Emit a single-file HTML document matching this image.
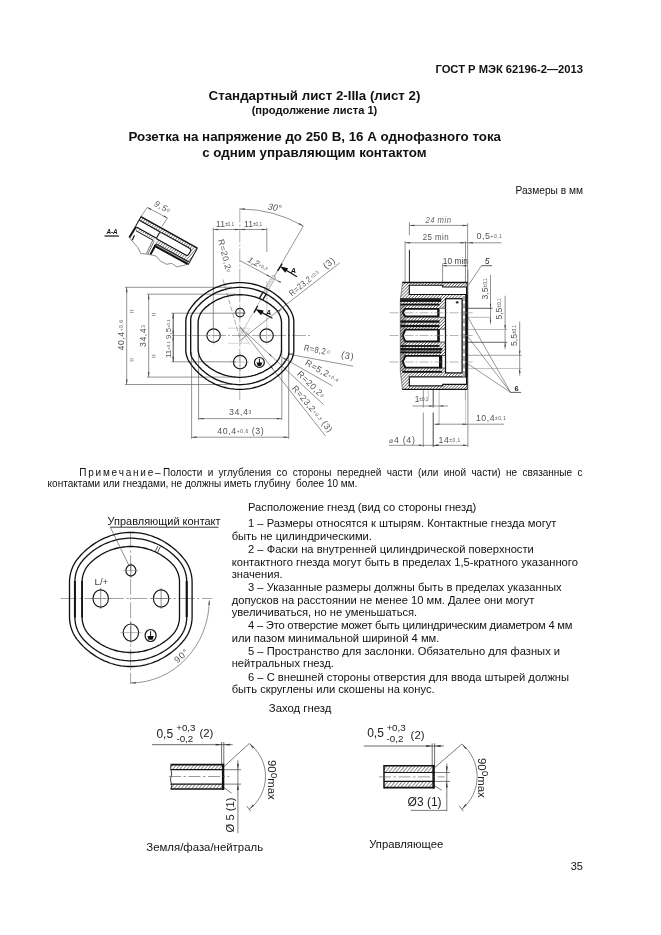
<!DOCTYPE html>
<html><head><meta charset="utf-8"><title>GOST</title>
<style>
html,body{margin:0;padding:0;background:#fff;}
body{width:661px;height:935px;position:relative;overflow:hidden;filter:grayscale(1);font-family:"Liberation Sans",sans-serif;color:#111;}
.t{position:absolute;white-space:pre;line-height:1;margin:0;}
.b{font-weight:bold;}
svg{position:absolute;left:0;top:0;}
svg text{font-family:"Liberation Sans",sans-serif;}
</style></head><body>
<div class="t b" style="right:78.0px;top:63.82px;font-size:11.2px;">ГОСТ Р МЭК 62196-2—2013</div>
<div class="t b" style="left:14.5px;width:600px;text-align:center;top:89.04px;font-size:13.3px;">Стандартный лист 2-IIIa (лист 2)</div>
<div class="t b" style="left:14.5px;width:600px;text-align:center;top:104.90px;font-size:11.1px;">(продолжение листа 1)</div>
<div class="t b" style="left:14.7px;width:600px;text-align:center;top:130.02px;font-size:13.33px;">Розетка на напряжение до 250 В, 16 А однофазного тока</div>
<div class="t b" style="left:14.4px;width:600px;text-align:center;top:146.02px;font-size:13.33px;">с одним управляющим контактом</div>
<div class="t " style="right:78.0px;top:185.67px;font-size:10.2px;">Размеры в мм</div>
<div class="t" style="left:79.2px;width:503.3px;top:467.84px;font-size:10px;white-space:normal;text-align:justify;text-align-last:justify;"><span style="letter-spacing:1.8px">Примечание</span><span style="margin-right:2.4px">–</span>Полости и углубления со стороны передней части (или иной части) не связанные с</div>
<div class="t " style="left:47.6px;top:478.84px;font-size:10px;">контактами или гнездами, не должны иметь глубину  более 10 мм.</div>
<div class="t " style="left:248.0px;top:501.84px;font-size:11.18px;">Расположение гнезд (вид со стороны гнезд)</div>
<div class="t " style="left:248.0px;top:517.84px;font-size:11.18px;">1 – Размеры относятся к штырям. Контактные гнезда могут</div>
<div class="t " style="left:231.7px;top:530.84px;font-size:11.18px;">быть не цилиндрическими.</div>
<div class="t " style="left:248.0px;top:543.84px;font-size:11.18px;">2 – Фаски на внутренней цилиндрической поверхности</div>
<div class="t " style="left:231.7px;top:556.84px;font-size:11.18px;">контактного гнезда могут быть в пределах 1,5-кратного указанного</div>
<div class="t " style="left:231.7px;top:568.84px;font-size:11.18px;">значения.</div>
<div class="t " style="left:248.0px;top:581.84px;font-size:11.18px;">3 – Указанные размеры должны быть в пределах указанных</div>
<div class="t " style="left:231.7px;top:594.84px;font-size:11.18px;">допусков на расстоянии не менее 10 мм. Далее они могут</div>
<div class="t " style="left:231.7px;top:606.84px;font-size:11.18px;">увеличиваться, но не уменьшаться.</div>
<div class="t " style="left:248.0px;top:619.84px;font-size:11.18px;letter-spacing:-0.2px;">4 – Это отверстие может быть цилиндрическим диаметром 4 мм</div>
<div class="t " style="left:231.7px;top:632.84px;font-size:11.18px;">или пазом минимальной шириной 4 мм.</div>
<div class="t " style="left:248.0px;top:645.84px;font-size:11.18px;">5 – Пространство для заслонки. Обязательно для фазных и</div>
<div class="t " style="left:231.7px;top:657.84px;font-size:11.18px;">нейтральных гнезд.</div>
<div class="t " style="left:248.0px;top:671.84px;font-size:11.18px;">6 – С внешней стороны отверстия для ввода штырей должны</div>
<div class="t " style="left:231.7px;top:683.84px;font-size:11.18px;">быть скруглены или скошены на конус.</div>
<div class="t " style="left:268.8px;top:702.71px;font-size:11.33px;">Заход гнезд</div>
<div class="t " style="left:107.6px;top:516.02px;font-size:10.96px;">Управляющий контакт</div>
<div class="t " style="left:146.3px;top:841.65px;font-size:11.4px;">Земля/фаза/нейтраль</div>
<div class="t " style="left:369.2px;top:838.73px;font-size:11.3px;">Управляющее</div>
<div class="t " style="right:78.0px;top:860.99px;font-size:11px;">35</div>
<svg width="661" height="935" viewBox="0 0 661 935">
<defs>
<pattern id="h" width="2.2" height="2.2" patternUnits="userSpaceOnUse" patternTransform="rotate(-45)"><rect width="2.2" height="2.2" fill="#fff"/><line x1="0" y1="0" x2="2.2" y2="0" stroke="#1a1a1a" stroke-width="1.05"/></pattern>
<pattern id="h2" width="2.4" height="2.4" patternUnits="userSpaceOnUse" patternTransform="rotate(-78)"><rect width="2.4" height="2.4" fill="#fff"/><line x1="0" y1="0" x2="2.4" y2="0" stroke="#222" stroke-width="0.95"/></pattern>
<pattern id="h3" width="2.7" height="2.7" patternUnits="userSpaceOnUse" patternTransform="rotate(-50)"><rect width="2.7" height="2.7" fill="#fff"/><line x1="0" y1="0" x2="2.7" y2="0" stroke="#222" stroke-width="1.0"/></pattern>
</defs>
<line x1="239.8" y1="208.5" x2="239.8" y2="400.0" stroke="#777" stroke-width="0.6" stroke-dasharray="14 2 2 2"/>
<line x1="172.0" y1="335.5" x2="310.0" y2="335.5" stroke="#777" stroke-width="0.6" stroke-dasharray="14 2 2 2"/>
<line x1="125.0" y1="287.3" x2="232.0" y2="287.3" stroke="#666" stroke-width="0.7" />
<line x1="125.0" y1="384.5" x2="232.0" y2="384.5" stroke="#666" stroke-width="0.7" />
<line x1="147.0" y1="294.2" x2="236.0" y2="294.2" stroke="#666" stroke-width="0.7" />
<line x1="147.0" y1="377.1" x2="236.0" y2="377.1" stroke="#666" stroke-width="0.7" />
<line x1="171.5" y1="313.2" x2="245.0" y2="313.2" stroke="#666" stroke-width="0.7" />
<line x1="171.5" y1="361.8" x2="236.0" y2="361.8" stroke="#666" stroke-width="0.7" />
<line x1="126.7" y1="287.3" x2="126.7" y2="384.5" stroke="#666" stroke-width="0.7" />
<polygon points="126.7,287.3 127.5,292.3 126.0,292.3" fill="#444"/>
<polygon points="126.7,384.5 126.0,379.5 127.5,379.5" fill="#444"/>
<line x1="148.7" y1="294.2" x2="148.7" y2="377.1" stroke="#666" stroke-width="0.7" />
<polygon points="148.7,294.2 149.4,299.2 147.9,299.2" fill="#444"/>
<polygon points="148.7,377.1 147.9,372.1 149.4,372.1" fill="#444"/>
<line x1="173.2" y1="313.2" x2="173.2" y2="361.8" stroke="#444" stroke-width="1.0" />
<polygon points="173.2,313.2 173.9,318.2 172.4,318.2" fill="#444"/>
<polygon points="173.2,361.8 172.4,356.8 173.9,356.8" fill="#444"/>
<polygon points="173.2,335.5 172.4,330.5 173.9,330.5" fill="#444"/>
<polygon points="173.2,335.5 173.9,340.5 172.4,340.5" fill="#444"/>
<text transform="translate(124.0 350.5) rotate(-90)" font-size="8.6" fill="#555" text-anchor="start" letter-spacing="0.6">40,4<tspan font-size="55%" dy="-1">+0,6</tspan></text>
<text transform="translate(145.8 347.0) rotate(-90)" font-size="8.6" fill="#555" text-anchor="start" letter-spacing="0.6">34,4<tspan font-size="55%" dy="-1">3</tspan></text>
<text transform="translate(171.0 358.0) rotate(-90)" font-size="8" fill="#555" text-anchor="start" >11<tspan font-size="55%" dy="-1">±0,1</tspan><tspan dy="1"> 9,5</tspan><tspan font-size="55%" dy="-1">±0,1</tspan></text>
<line x1="130.0" y1="310.4" x2="133.6" y2="310.4" stroke="#555" stroke-width="0.6" />
<line x1="130.0" y1="312.4" x2="133.6" y2="312.4" stroke="#555" stroke-width="0.6" />
<line x1="130.0" y1="358.9" x2="133.6" y2="358.9" stroke="#555" stroke-width="0.6" />
<line x1="130.0" y1="360.9" x2="133.6" y2="360.9" stroke="#555" stroke-width="0.6" />
<line x1="151.9" y1="313.5" x2="155.5" y2="313.5" stroke="#555" stroke-width="0.6" />
<line x1="151.9" y1="315.5" x2="155.5" y2="315.5" stroke="#555" stroke-width="0.6" />
<line x1="151.9" y1="355.2" x2="155.5" y2="355.2" stroke="#555" stroke-width="0.6" />
<line x1="151.9" y1="357.2" x2="155.5" y2="357.2" stroke="#555" stroke-width="0.6" />
<line x1="213.3" y1="227.5" x2="213.3" y2="330.0" stroke="#666" stroke-width="0.7" />
<line x1="266.8" y1="227.5" x2="266.8" y2="252.0" stroke="#666" stroke-width="0.7" />
<line x1="266.8" y1="281.0" x2="266.8" y2="330.0" stroke="#999" stroke-width="0.5" />
<line x1="213.3" y1="229.5" x2="266.8" y2="229.5" stroke="#666" stroke-width="0.7" />
<polygon points="213.3,229.5 218.3,228.8 218.3,230.2" fill="#444"/>
<polygon points="266.8,229.5 261.8,230.2 261.8,228.8" fill="#444"/>
<polygon points="239.8,229.5 234.8,230.2 234.8,228.8" fill="#444"/>
<polygon points="239.8,229.5 244.8,228.8 244.8,230.2" fill="#444"/>
<text transform="translate(216.0 226.6)" font-size="8.6" fill="#555" text-anchor="start" >11<tspan font-size="55%" dy="-1">±0,1</tspan></text>
<text transform="translate(244.0 226.6)" font-size="8.6" fill="#555" text-anchor="start" >11<tspan font-size="55%" dy="-1">±0,1</tspan></text>
<path d="M239.8,209.0 A127,127 0 0 1 303.3,226.0" fill="none" stroke="#666" stroke-width="0.7"/>
<polygon points="239.8,209.0 244.8,208.2 244.8,209.8" fill="#444"/>
<polygon points="303.3,226.0 298.6,224.2 299.3,222.9" fill="#444"/>
<line x1="303.3" y1="226.0" x2="274.3" y2="276.2" stroke="#666" stroke-width="0.7" />
<line x1="261.3" y1="298.8" x2="239.8" y2="336.0" stroke="#888" stroke-width="0.5" />
<text transform="translate(267.5 209.6) rotate(8)" font-size="9" fill="#555" text-anchor="start" font-style="italic">30°</text>
<line x1="239.8" y1="338.0" x2="222.9" y2="279.2" stroke="#777" stroke-width="0.6" stroke-dasharray="5 2"/>
<text transform="translate(218.0 240.0) rotate(76)" font-size="8.6" fill="#555" text-anchor="start" letter-spacing="0.5">R=20,2<tspan font-size="55%" dy="-1">0</tspan></text>
<line x1="240.2" y1="260.7" x2="279.4" y2="281.8" stroke="#666" stroke-width="0.7" />
<polygon points="270.5,277.0 266.6,275.8 267.3,274.5" fill="#444"/>
<polygon points="277.2,280.6 281.1,281.8 280.4,283.1" fill="#444"/>
<text transform="translate(247.0 261.5) rotate(28)" font-size="8.6" fill="#555" text-anchor="start" font-style="italic">1,2<tspan font-size="55%" dy="-1">+0,3</tspan></text>
<line x1="259.5" y1="298.2" x2="263.1" y2="292.0" stroke="#111" stroke-width="1.3" />
<line x1="263.1" y1="292.0" x2="272.7" y2="275.3" stroke="#888" stroke-width="0.5" />
<line x1="262.7" y1="300.0" x2="266.3" y2="293.8" stroke="#111" stroke-width="1.3" />
<line x1="266.3" y1="293.8" x2="275.9" y2="277.1" stroke="#888" stroke-width="0.5" />
<line x1="263.2" y1="291.8" x2="267.4" y2="291.9" stroke="#888" stroke-width="0.45" />
<line x1="264.2" y1="290.1" x2="268.4" y2="290.1" stroke="#888" stroke-width="0.45" />
<line x1="265.2" y1="288.3" x2="269.4" y2="288.4" stroke="#888" stroke-width="0.45" />
<line x1="266.2" y1="286.6" x2="270.4" y2="286.7" stroke="#888" stroke-width="0.45" />
<line x1="267.2" y1="284.9" x2="271.4" y2="284.9" stroke="#888" stroke-width="0.45" />
<line x1="268.2" y1="283.1" x2="272.4" y2="283.2" stroke="#888" stroke-width="0.45" />
<line x1="269.2" y1="281.4" x2="273.4" y2="281.5" stroke="#888" stroke-width="0.45" />
<line x1="270.2" y1="279.7" x2="274.4" y2="279.7" stroke="#888" stroke-width="0.45" />
<line x1="271.2" y1="277.9" x2="275.4" y2="278.0" stroke="#888" stroke-width="0.45" />
<line x1="272.7" y1="275.3" x2="275.9" y2="277.1" stroke="#555" stroke-width="0.6" />
<line x1="297.0" y1="276.7" x2="283.3" y2="268.4" stroke="#111" stroke-width="1.2" /><polygon points="279.9,266.3 288.1,268.2 285.3,272.8" fill="#111"/>
<line x1="277.7" y1="270.9" x2="282.2" y2="263.6" stroke="#111" stroke-width="1.3" />
<text transform="translate(290.8 272.9)" font-size="7.2" fill="#111" text-anchor="start" font-weight="bold" font-style="italic">A</text>
<line x1="272.5" y1="318.3" x2="258.9" y2="310.9" stroke="#111" stroke-width="1.2" /><polygon points="255.4,309.0 263.7,310.4 261.1,315.2" fill="#111"/>
<line x1="254.1" y1="312.6" x2="257.7" y2="305.8" stroke="#111" stroke-width="1.3" />
<text transform="translate(265.9 314.6)" font-size="7.2" fill="#111" text-anchor="start" font-weight="bold" font-style="italic">A</text>
<line x1="339.8" y1="262.8" x2="239.6" y2="340.8" stroke="#666" stroke-width="0.7" />
<polygon points="282.2,308.5 279.1,311.9 278.2,310.7" fill="#444"/>
<text transform="translate(292.0 296.4) rotate(-38.5) scale(0.82,1)" font-size="8.8" fill="#555" text-anchor="start" letter-spacing="0.5">R=23,2</text><text transform="translate(312.7 279.9) rotate(-38.5)" font-size="4.8" fill="#666" text-anchor="start" dy="-1.5">+0,3</text><text transform="translate(326.0 269.3) rotate(-38.5)" font-size="9.2" fill="#555" text-anchor="start" letter-spacing="0.6">(3)</text>
<line x1="228.0" y1="328.2" x2="248.5" y2="328.2" stroke="#aaa" stroke-width="0.5" />
<line x1="228.0" y1="343.3" x2="248.5" y2="343.3" stroke="#aaa" stroke-width="0.5" />
<line x1="239.3" y1="328.0" x2="250.0" y2="345.0" stroke="#aaa" stroke-width="0.5" />
<line x1="250.0" y1="328.0" x2="239.3" y2="345.0" stroke="#aaa" stroke-width="0.5" />
<line x1="293.1" y1="355.0" x2="353.1" y2="366.2" stroke="#666" stroke-width="0.7" />
<text transform="translate(303.5 350.5) rotate(10.6) scale(0.86,1)" font-size="8.8" fill="#555" text-anchor="start" letter-spacing="0.5">R=8,2</text><text transform="translate(326.7 354.8) rotate(10.6)" font-size="4.8" fill="#666" text-anchor="start" dy="-1.5">0</text><text transform="translate(340.7 357.5) rotate(10.6)" font-size="9.2" fill="#555" text-anchor="start" letter-spacing="0.6">(3)</text>
<line x1="282.3" y1="357.4" x2="332.4" y2="385.9" stroke="#666" stroke-width="0.7" />
<polygon points="282.3,357.4 286.1,358.7 285.4,360.0" fill="#444"/>
<text transform="translate(304.5 364.5) rotate(29.6)" font-size="8.8" fill="#555" text-anchor="start" letter-spacing="0.5">R=5,2<tspan font-size="55%" dy="-1">+0,4</tspan></text>
<line x1="240.0" y1="327.0" x2="323.6" y2="404.6" stroke="#666" stroke-width="0.7" />
<polygon points="272.3,357.0 268.9,354.8 269.9,353.7" fill="#444"/>
<text transform="translate(296.5 374.5) rotate(44)" font-size="8.8" fill="#555" text-anchor="start" letter-spacing="0.5">R=20,2<tspan font-size="55%" dy="-1">0</tspan></text>
<line x1="239.5" y1="326.5" x2="325.5" y2="436.0" stroke="#666" stroke-width="0.7" />
<polygon points="273.5,369.8 270.4,367.1 271.6,366.2" fill="#444"/>
<text transform="translate(291.5 388.5) rotate(50)" font-size="8.8" fill="#555" text-anchor="start" letter-spacing="0.5">R=23,2<tspan font-size="55%" dy="-1">+0,3</tspan><tspan dy="1"> (3)</tspan></text>
<line x1="198.6" y1="350.0" x2="198.6" y2="420.2" stroke="#666" stroke-width="0.7" />
<line x1="281.8" y1="350.0" x2="281.8" y2="420.2" stroke="#666" stroke-width="0.7" />
<line x1="191.6" y1="352.0" x2="191.6" y2="438.9" stroke="#666" stroke-width="0.7" />
<line x1="288.7" y1="352.0" x2="288.7" y2="438.9" stroke="#666" stroke-width="0.7" />
<line x1="198.6" y1="418.6" x2="281.8" y2="418.6" stroke="#666" stroke-width="0.7" />
<polygon points="198.6,418.6 203.6,417.9 203.6,419.4" fill="#444"/>
<polygon points="281.8,418.6 276.8,419.4 276.8,417.9" fill="#444"/>
<line x1="191.6" y1="437.2" x2="288.7" y2="437.2" stroke="#666" stroke-width="0.7" />
<polygon points="191.6,437.2 196.6,436.4 196.6,437.9" fill="#444"/>
<polygon points="288.7,437.2 283.7,437.9 283.7,436.4" fill="#444"/>
<text transform="translate(229.0 415.3)" font-size="8.8" fill="#555" text-anchor="start" letter-spacing="0.6">34,4<tspan font-size="55%" dy="-1">3</tspan></text>
<text transform="translate(217.2 433.6)" font-size="8.8" fill="#555" text-anchor="start" letter-spacing="0.6">40,4<tspan font-size="55%" dy="-1">+0,6</tspan><tspan dy="1">  (3)</tspan></text>
<polygon points="185.8,336.0 185.8,322.1 185.8,321.6 185.8,321.1 185.9,320.5 185.9,320.0 186.0,319.5 186.0,319.0 186.1,318.5 186.2,318.0 186.3,317.4 186.4,316.9 186.5,316.4 186.7,315.9 186.8,315.4 187.0,314.9 187.2,314.4 187.4,314.0 187.6,313.5 187.8,313.0 188.0,312.5 188.2,312.1 188.5,311.6 188.7,311.1 189.0,310.7 189.3,310.2 190.7,308.2 192.1,306.1 193.7,304.2 195.3,302.3 197.1,300.5 198.9,298.7 200.7,297.1 202.7,295.5 204.7,294.0 206.7,292.5 208.8,291.2 211.0,290.0 213.2,288.8 215.5,287.7 217.8,286.8 220.1,285.9 222.5,285.1 224.9,284.5 227.4,283.9 229.8,283.4 232.3,283.1 234.8,282.8 237.3,282.7 239.8,282.6 242.3,282.7 244.8,282.8 247.3,283.1 249.8,283.4 252.2,283.9 254.7,284.5 257.1,285.1 259.5,285.9 261.8,286.8 264.1,287.7 266.4,288.8 268.6,290.0 270.8,291.2 272.9,292.5 274.9,294.0 276.9,295.5 278.9,297.1 280.7,298.7 282.5,300.5 284.3,302.3 285.9,304.2 287.5,306.1 288.9,308.2 290.3,310.2 290.6,310.7 290.9,311.1 291.1,311.6 291.4,312.1 291.6,312.5 291.8,313.0 292.0,313.5 292.2,314.0 292.4,314.4 292.6,314.9 292.8,315.4 292.9,315.9 293.1,316.4 293.2,316.9 293.3,317.4 293.4,318.0 293.5,318.5 293.6,319.0 293.6,319.5 293.7,320.0 293.7,320.5 293.8,321.1 293.8,321.6 293.8,322.1 293.8,336.0 293.8,349.9 293.8,350.4 293.8,350.9 293.7,351.5 293.7,352.0 293.6,352.5 293.6,353.0 293.5,353.5 293.4,354.0 293.3,354.6 293.2,355.1 293.1,355.6 292.9,356.1 292.8,356.6 292.6,357.1 292.4,357.6 292.2,358.0 292.0,358.5 291.8,359.0 291.6,359.5 291.4,359.9 291.1,360.4 290.9,360.9 290.6,361.3 290.3,361.8 288.9,363.8 287.5,365.9 285.9,367.8 284.3,369.7 282.5,371.5 280.7,373.3 278.9,374.9 276.9,376.5 274.9,378.0 272.9,379.5 270.8,380.8 268.6,382.0 266.4,383.2 264.1,384.3 261.8,385.2 259.5,386.1 257.1,386.9 254.7,387.5 252.2,388.1 249.8,388.6 247.3,388.9 244.8,389.2 242.3,389.3 239.8,389.4 237.3,389.3 234.8,389.2 232.3,388.9 229.8,388.6 227.4,388.1 224.9,387.5 222.5,386.9 220.1,386.1 217.8,385.2 215.5,384.3 213.2,383.2 211.0,382.0 208.8,380.8 206.7,379.5 204.7,378.0 202.7,376.5 200.7,374.9 198.9,373.3 197.1,371.5 195.3,369.7 193.7,367.8 192.1,365.9 190.7,363.8 189.3,361.8 189.0,361.3 188.7,360.9 188.5,360.4 188.2,359.9 188.0,359.5 187.8,359.0 187.6,358.5 187.4,358.0 187.2,357.6 187.0,357.1 186.8,356.6 186.7,356.1 186.5,355.6 186.4,355.1 186.3,354.6 186.2,354.0 186.1,353.5 186.0,353.0 186.0,352.5 185.9,352.0 185.9,351.5 185.8,350.9 185.8,350.4 185.8,349.9" fill="none" stroke="#111" stroke-width="1.35" stroke-linejoin="round"/>
<polygon points="190.7,336.0 190.7,319.7 190.7,319.5 190.7,319.2 190.7,318.9 190.8,318.6 190.8,318.3 190.8,318.0 190.9,317.8 190.9,317.5 191.0,317.2 191.0,316.9 191.1,316.7 191.2,316.4 191.3,316.1 191.4,315.8 191.4,315.6 191.5,315.3 191.7,315.0 191.8,314.8 191.9,314.5 192.0,314.3 192.1,314.0 192.3,313.8 192.4,313.5 192.6,313.3 193.9,311.3 195.3,309.5 196.7,307.6 198.3,305.9 199.9,304.2 201.5,302.5 203.3,301.0 205.1,299.5 206.9,298.1 208.9,296.7 210.8,295.5 212.9,294.3 214.9,293.2 217.1,292.2 219.2,291.3 221.4,290.5 223.6,289.8 225.9,289.2 228.2,288.6 230.5,288.2 232.8,287.8 235.1,287.6 237.5,287.4 239.8,287.4 242.1,287.4 244.5,287.6 246.8,287.8 249.1,288.2 251.4,288.6 253.7,289.2 256.0,289.8 258.2,290.5 260.4,291.3 262.5,292.2 264.7,293.2 266.7,294.3 268.8,295.5 270.7,296.7 272.7,298.1 274.5,299.5 276.3,301.0 278.1,302.5 279.7,304.2 281.3,305.9 282.9,307.6 284.3,309.5 285.7,311.3 287.0,313.3 287.2,313.5 287.3,313.8 287.5,314.0 287.6,314.3 287.7,314.5 287.8,314.8 287.9,315.0 288.1,315.3 288.2,315.6 288.2,315.8 288.3,316.1 288.4,316.4 288.5,316.7 288.6,316.9 288.6,317.2 288.7,317.5 288.7,317.8 288.8,318.0 288.8,318.3 288.8,318.6 288.9,318.9 288.9,319.2 288.9,319.5 288.9,319.7 288.9,336.0 288.9,352.3 288.9,352.5 288.9,352.8 288.9,353.1 288.8,353.4 288.8,353.7 288.8,354.0 288.7,354.2 288.7,354.5 288.6,354.8 288.6,355.1 288.5,355.3 288.4,355.6 288.3,355.9 288.2,356.2 288.2,356.4 288.1,356.7 287.9,357.0 287.8,357.2 287.7,357.5 287.6,357.7 287.5,358.0 287.3,358.2 287.2,358.5 287.0,358.7 285.7,360.7 284.3,362.5 282.9,364.4 281.3,366.1 279.7,367.8 278.1,369.5 276.3,371.0 274.5,372.5 272.7,373.9 270.7,375.3 268.8,376.5 266.7,377.7 264.7,378.8 262.5,379.8 260.4,380.7 258.2,381.5 256.0,382.2 253.7,382.8 251.4,383.4 249.1,383.8 246.8,384.2 244.5,384.4 242.1,384.6 239.8,384.6 237.5,384.6 235.1,384.4 232.8,384.2 230.5,383.8 228.2,383.4 225.9,382.8 223.6,382.2 221.4,381.5 219.2,380.7 217.1,379.8 214.9,378.8 212.9,377.7 210.8,376.5 208.9,375.3 206.9,373.9 205.1,372.5 203.3,371.0 201.5,369.5 199.9,367.8 198.3,366.1 196.7,364.4 195.3,362.5 193.9,360.7 192.6,358.7 192.4,358.5 192.3,358.2 192.1,358.0 192.0,357.7 191.9,357.5 191.8,357.2 191.7,357.0 191.5,356.7 191.4,356.4 191.4,356.2 191.3,355.9 191.2,355.6 191.1,355.3 191.0,355.1 191.0,354.8 190.9,354.5 190.9,354.2 190.8,354.0 190.8,353.7 190.8,353.4 190.7,353.1 190.7,352.8 190.7,352.5 190.7,352.3" fill="none" stroke="#111" stroke-width="1.35" stroke-linejoin="round"/>
<polygon points="198.1,336.0 198.1,323.2 198.1,322.5 198.1,321.8 198.2,321.1 198.3,320.4 198.4,319.8 198.5,319.1 198.7,318.4 198.9,317.7 199.1,317.1 199.3,316.4 199.5,315.8 199.8,315.2 200.1,314.5 200.4,313.9 200.7,313.3 201.1,312.7 201.4,312.1 201.8,311.6 202.2,311.0 202.6,310.5 203.1,310.0 203.6,309.4 204.0,309.0 204.5,308.5 205.7,307.4 207.0,306.4 208.2,305.4 209.5,304.4 210.9,303.5 212.2,302.6 213.6,301.8 215.0,301.0 216.4,300.2 217.9,299.5 219.4,298.9 220.9,298.3 222.4,297.7 223.9,297.2 225.5,296.7 227.0,296.3 228.6,295.9 230.2,295.6 231.8,295.3 233.4,295.1 235.0,294.9 236.6,294.8 238.2,294.7 239.8,294.7 241.4,294.7 243.0,294.8 244.6,294.9 246.2,295.1 247.8,295.3 249.4,295.6 251.0,295.9 252.6,296.3 254.1,296.7 255.7,297.2 257.2,297.7 258.7,298.3 260.2,298.9 261.7,299.5 263.2,300.2 264.6,301.0 266.0,301.8 267.4,302.6 268.7,303.5 270.1,304.4 271.4,305.4 272.6,306.4 273.9,307.4 275.1,308.5 275.6,309.0 276.0,309.4 276.5,310.0 277.0,310.5 277.4,311.0 277.8,311.6 278.2,312.1 278.5,312.7 278.9,313.3 279.2,313.9 279.5,314.5 279.8,315.2 280.1,315.8 280.3,316.4 280.5,317.1 280.7,317.7 280.9,318.4 281.1,319.1 281.2,319.8 281.3,320.4 281.4,321.1 281.5,321.8 281.5,322.5 281.5,323.2 281.5,336.0 281.5,348.8 281.5,349.5 281.5,350.2 281.4,350.9 281.3,351.6 281.2,352.2 281.1,352.9 280.9,353.6 280.7,354.3 280.5,354.9 280.3,355.6 280.1,356.2 279.8,356.8 279.5,357.5 279.2,358.1 278.9,358.7 278.5,359.3 278.2,359.9 277.8,360.4 277.4,361.0 277.0,361.5 276.5,362.0 276.0,362.6 275.6,363.0 275.1,363.5 273.9,364.6 272.6,365.6 271.4,366.6 270.1,367.6 268.7,368.5 267.4,369.4 266.0,370.2 264.6,371.0 263.2,371.8 261.7,372.5 260.2,373.1 258.7,373.7 257.2,374.3 255.7,374.8 254.1,375.3 252.6,375.7 251.0,376.1 249.4,376.4 247.8,376.7 246.2,376.9 244.6,377.1 243.0,377.2 241.4,377.3 239.8,377.3 238.2,377.3 236.6,377.2 235.0,377.1 233.4,376.9 231.8,376.7 230.2,376.4 228.6,376.1 227.0,375.7 225.5,375.3 223.9,374.8 222.4,374.3 220.9,373.7 219.4,373.1 217.9,372.5 216.4,371.8 215.0,371.0 213.6,370.2 212.2,369.4 210.9,368.5 209.5,367.6 208.2,366.6 207.0,365.6 205.7,364.6 204.5,363.5 204.0,363.0 203.6,362.6 203.1,362.0 202.6,361.5 202.2,361.0 201.8,360.4 201.4,359.9 201.1,359.3 200.7,358.7 200.4,358.1 200.1,357.5 199.8,356.8 199.5,356.2 199.3,355.6 199.1,354.9 198.9,354.3 198.7,353.6 198.5,352.9 198.4,352.2 198.3,351.6 198.2,350.9 198.1,350.2 198.1,349.5 198.1,348.8" fill="none" stroke="#111" stroke-width="1.35" stroke-linejoin="round"/>
<line x1="288.9" y1="354.3" x2="293.7" y2="354.0" stroke="#222" stroke-width="0.9" />
<circle cx="240.0" cy="312.6" r="4.3" fill="none" stroke="#111" stroke-width="1.15"/>
<circle cx="213.6" cy="335.6" r="6.7" fill="none" stroke="#111" stroke-width="1.15"/>
<circle cx="266.6" cy="335.6" r="6.7" fill="none" stroke="#111" stroke-width="1.15"/>
<circle cx="240.1" cy="362.1" r="6.7" fill="none" stroke="#111" stroke-width="1.15"/>
<line x1="234.0" y1="312.6" x2="246.0" y2="312.6" stroke="#888" stroke-width="0.5" />
<line x1="240.0" y1="306.6" x2="240.0" y2="318.6" stroke="#888" stroke-width="0.5" />
<line x1="204.6" y1="335.6" x2="222.6" y2="335.6" stroke="#888" stroke-width="0.5" />
<line x1="213.6" y1="326.6" x2="213.6" y2="344.6" stroke="#888" stroke-width="0.5" />
<line x1="257.6" y1="335.6" x2="275.6" y2="335.6" stroke="#888" stroke-width="0.5" />
<line x1="266.6" y1="326.6" x2="266.6" y2="344.6" stroke="#888" stroke-width="0.5" />
<line x1="231.1" y1="362.1" x2="249.1" y2="362.1" stroke="#888" stroke-width="0.5" />
<line x1="240.1" y1="353.1" x2="240.1" y2="371.1" stroke="#888" stroke-width="0.5" />
<circle cx="259.4" cy="362.4" r="4.9" fill="#fff" stroke="#111" stroke-width="1.2"/><path d="M259.4,358.7 V363.2" stroke="#111" stroke-width="1.0" fill="none"/><polygon points="256.4,362.59999999999997 262.4,362.59999999999997 261.0,366.0 257.79999999999995,366.0" fill="#111"/><line x1="409.4" y1="222.2" x2="409.4" y2="235.0" stroke="#666" stroke-width="0.7" />
<line x1="409.4" y1="249.8" x2="409.4" y2="283.0" stroke="#222" stroke-width="1.0" />
<line x1="467.6" y1="223.3" x2="467.6" y2="284.7" stroke="#666" stroke-width="0.7" />
<line x1="409.4" y1="225.4" x2="467.6" y2="225.4" stroke="#666" stroke-width="0.7" />
<polygon points="409.4,225.4 414.4,224.7 414.4,226.2" fill="#444"/>
<polygon points="467.6,225.4 462.6,226.2 462.6,224.7" fill="#444"/>
<text transform="translate(425.5 223.4) scale(0.92,1)" font-size="8.4" fill="#666" text-anchor="start" font-style="italic" letter-spacing="0.5">24 min</text>
<line x1="405.1" y1="241.3" x2="405.1" y2="283.7" stroke="#666" stroke-width="0.7" />
<line x1="465.5" y1="241.3" x2="465.5" y2="284.7" stroke="#666" stroke-width="0.7" />
<line x1="405.1" y1="242.8" x2="501.5" y2="242.8" stroke="#666" stroke-width="0.7" />
<polygon points="405.1,242.8 410.1,242.1 410.1,243.6" fill="#444"/>
<polygon points="465.5,242.8 460.5,243.6 460.5,242.1" fill="#444"/>
<polygon points="467.8,242.8 472.8,242.1 472.8,243.6" fill="#444"/>
<text transform="translate(422.7 240.2) scale(0.86,1)" font-size="9.2" fill="#555" text-anchor="start" letter-spacing="0.5">25 min</text>
<text transform="translate(476.5 239.4)" font-size="9" fill="#555" text-anchor="start" letter-spacing="0.5">0,5<tspan font-size="55%" dy="-1">+0,1</tspan></text>
<line x1="442.6" y1="263.5" x2="442.6" y2="283.7" stroke="#666" stroke-width="0.7" />
<line x1="442.6" y1="265.7" x2="467.6" y2="265.7" stroke="#666" stroke-width="0.7" />
<polygon points="442.6,265.7 446.6,264.9 446.6,266.4" fill="#444"/>
<polygon points="467.6,265.7 463.6,266.4 463.6,264.9" fill="#444"/>
<text transform="translate(442.8 263.6)" font-size="8.4" fill="#444" text-anchor="start" >10 min</text>
<line x1="468.0" y1="285.8" x2="481.4" y2="265.7" stroke="#666" stroke-width="0.7" />
<line x1="481.4" y1="265.7" x2="492.0" y2="265.7" stroke="#333" stroke-width="0.8" />
<text transform="translate(484.8 264.2)" font-size="8.6" fill="#222" text-anchor="start" font-style="italic">5</text>
<line x1="465.4" y1="270.0" x2="465.4" y2="400.0" stroke="#888" stroke-width="0.5" />
<line x1="467.9" y1="270.0" x2="467.9" y2="447.0" stroke="#666" stroke-width="0.7" />
<line x1="490.5" y1="274.9" x2="490.5" y2="324.2" stroke="#666" stroke-width="0.7" />
<line x1="467.5" y1="308.3" x2="492.6" y2="308.3" stroke="#333" stroke-width="0.8" />
<line x1="455.0" y1="317.3" x2="490.5" y2="317.3" stroke="#999" stroke-width="0.7" />
<polygon points="490.5,308.3 489.8,303.8 491.2,303.8" fill="#444"/>
<polygon points="490.5,317.3 491.2,321.8 489.8,321.8" fill="#444"/>
<text transform="translate(487.8 299.4) rotate(-90)" font-size="8.6" fill="#555" text-anchor="start" >3,5<tspan font-size="55%" dy="-1">±0,1</tspan></text>
<line x1="505.1" y1="295.7" x2="505.1" y2="349.3" stroke="#666" stroke-width="0.7" />
<line x1="455.0" y1="329.5" x2="507.2" y2="329.5" stroke="#999" stroke-width="0.7" />
<line x1="467.5" y1="342.3" x2="507.2" y2="342.3" stroke="#444" stroke-width="0.8" />
<polygon points="505.1,329.5 504.4,325.0 505.9,325.0" fill="#444"/>
<polygon points="505.1,342.3 505.9,346.8 504.4,346.8" fill="#444"/>
<text transform="translate(502.4 319.6) rotate(-90)" font-size="8.6" fill="#555" text-anchor="start" >5,5<tspan font-size="55%" dy="-1">±0,1</tspan></text>
<line x1="519.7" y1="321.5" x2="519.7" y2="375.7" stroke="#666" stroke-width="0.7" />
<line x1="455.0" y1="355.3" x2="521.8" y2="355.3" stroke="#777" stroke-width="0.7" />
<line x1="468.0" y1="368.5" x2="521.8" y2="368.5" stroke="#aaa" stroke-width="0.7" />
<polygon points="519.7,355.3 519.0,350.8 520.5,350.8" fill="#444"/>
<polygon points="519.7,368.5 520.5,373.0 519.0,373.0" fill="#444"/>
<text transform="translate(517.0 346.0) rotate(-90)" font-size="8.6" fill="#555" text-anchor="start" >5,5<tspan font-size="55%" dy="-1">±0,1</tspan></text>
<line x1="467.9" y1="317.3" x2="510.6" y2="392.4" stroke="#555" stroke-width="0.6" />
<line x1="467.9" y1="336.8" x2="510.6" y2="392.4" stroke="#555" stroke-width="0.6" />
<line x1="467.9" y1="363.9" x2="510.6" y2="392.4" stroke="#555" stroke-width="0.6" />
<line x1="510.6" y1="392.4" x2="521.1" y2="392.4" stroke="#333" stroke-width="0.8" />
<text transform="translate(514.6 391.0)" font-size="7.4" fill="#222" text-anchor="start" font-weight="bold">6</text>
<line x1="423.3" y1="389.8" x2="423.3" y2="407.5" stroke="#666" stroke-width="0.7" />
<line x1="423.3" y1="412.5" x2="423.3" y2="447.0" stroke="#666" stroke-width="0.7" />
<line x1="433.2" y1="386.0" x2="433.2" y2="407.5" stroke="#333" stroke-width="0.9" />
<line x1="433.2" y1="412.5" x2="433.2" y2="447.0" stroke="#333" stroke-width="0.9" />
<line x1="439.1" y1="380.0" x2="439.1" y2="424.2" stroke="#888" stroke-width="0.6" />
<line x1="465.6" y1="389.8" x2="465.6" y2="424.2" stroke="#999" stroke-width="0.5" />
<line x1="428.3" y1="380.0" x2="428.3" y2="399.7" stroke="#888" stroke-width="0.5" />
<line x1="412.5" y1="406.0" x2="447.9" y2="406.0" stroke="#666" stroke-width="0.7" />
<polygon points="433.2,406.0 429.2,406.8 429.2,405.2" fill="#444"/>
<polygon points="439.1,406.0 443.1,405.2 443.1,406.8" fill="#444"/>
<text transform="translate(414.7 402.2)" font-size="8.4" fill="#555" text-anchor="start" >1<tspan font-size="55%" dy="-1">±0,1</tspan></text>
<line x1="434.2" y1="424.2" x2="504.0" y2="424.2" stroke="#666" stroke-width="0.7" />
<polygon points="434.2,424.2 439.2,423.4 439.2,424.9" fill="#444"/>
<polygon points="467.6,424.2 462.6,424.9 462.6,423.4" fill="#444"/>
<text transform="translate(475.9 421.0)" font-size="8.8" fill="#555" text-anchor="start" letter-spacing="0.5">10,4<tspan font-size="55%" dy="-1">±0,1</tspan></text>
<line x1="388.9" y1="445.3" x2="467.6" y2="445.3" stroke="#666" stroke-width="0.7" />
<polygon points="423.3,445.3 418.8,446.1 418.8,444.6" fill="#444"/>
<polygon points="433.2,445.3 437.7,444.6 437.7,446.1" fill="#444"/>
<polygon points="434.2,445.3 438.7,444.6 438.7,446.1" fill="#444"/>
<polygon points="467.6,445.3 463.1,446.1 463.1,444.6" fill="#444"/>
<text transform="translate(389.3 443.3)" font-size="8.8" fill="#555" text-anchor="start" letter-spacing="0.7"><tspan font-size="7">⌀</tspan>4 (4)</text>
<text transform="translate(438.5 443.0)" font-size="8.8" fill="#555" text-anchor="start" letter-spacing="0.5">14<tspan font-size="55%" dy="-1">±0,1</tspan></text>
<path d="M402.4,282.3 H467.5 V389.4 H402.4 L401.5,381 L400.3,372 V300 L401.5,291 Z" fill="url(#h)"/>
<rect x="400.3" y="305.5" width="5.3" height="65.5" fill="#000" fill-opacity="0.28"/>
<path d="M409.3,285.2 H442.7 V287.0 H466.6 V294.5 H409.3 Z" fill="#fff" stroke="#111" stroke-width="1.15"/>
<path d="M409.3,385.9 H442.7 V384.4 H466.6 V376.8 H409.3 Z" fill="#fff" stroke="#111" stroke-width="1.15"/>
<line x1="402.2" y1="282.5" x2="467.6" y2="282.5" stroke="#111" stroke-width="1.3" />
<line x1="402.2" y1="389.3" x2="467.6" y2="389.3" stroke="#111" stroke-width="1.3" />
<rect x="462.6" y="295.0" width="2.8" height="81.4" fill="#fff"/>
<line x1="464.0" y1="296.0" x2="464.0" y2="376.0" stroke="#333" stroke-width="0.8" stroke-dasharray="5 2.5"/>
<rect x="465.2" y="294.6" width="2.5" height="82.6" fill="#111"/>
<line x1="467.2" y1="282.3" x2="467.2" y2="389.4" stroke="#111" stroke-width="0.9" />
<rect x="439.6" y="307.9" width="5.6" height="9.7" fill="#fff"/>
<line x1="439.6" y1="308.2" x2="445.2" y2="308.2" stroke="#222" stroke-width="0.8" />
<line x1="439.6" y1="317.3" x2="445.2" y2="317.3" stroke="#222" stroke-width="0.8" />
<rect x="439.8" y="328.8" width="5.4" height="13.6" fill="#fff"/>
<line x1="439.8" y1="329.1" x2="445.2" y2="329.1" stroke="#222" stroke-width="0.8" />
<line x1="439.8" y1="342.1" x2="445.2" y2="342.1" stroke="#222" stroke-width="0.8" />
<rect x="442.2" y="355.2" width="3.0" height="13.2" fill="#fff"/>
<line x1="442.2" y1="355.5" x2="445.2" y2="355.5" stroke="#222" stroke-width="0.8" />
<line x1="442.2" y1="368.1" x2="445.2" y2="368.1" stroke="#222" stroke-width="0.8" />
<rect x="445.5" y="298.7" width="16.6" height="74.2" fill="#fff" stroke="#111" stroke-width="1.25"/>
<ellipse cx="457.2" cy="302.4" rx="1.5" ry="1.1" fill="#222"/>
<rect x="400.0" y="299.1" width="41.3" height="2.8" fill="#111"/>
<rect x="400.3" y="303.6" width="39.2" height="1.9" fill="#111"/>
<rect x="400.3" y="320.4" width="39.2" height="2.3" fill="#111"/>
<rect x="400.3" y="324.9" width="39.2" height="2.3" fill="#111"/>
<rect x="400.3" y="345.1" width="39.2" height="1.8" fill="#111"/>
<rect x="400.3" y="348.1" width="41.9" height="2.4" fill="#111"/>
<rect x="400.3" y="351.4" width="41.0" height="1.9" fill="#111"/>
<rect x="402.3" y="370.9" width="39.9" height="1.9" fill="#111"/>
<line x1="400.0" y1="298.5" x2="441.3" y2="298.5" stroke="#333" stroke-width="1.2" />
<path d="M438.0,308.8 H405.4 L402.8,312.6 L405.4,316.5 H438.0" fill="#fff" stroke="#111" stroke-width="1.8" stroke-linejoin="miter"/><rect x="437.2" y="308.0" width="2.3" height="9.3" fill="#111"/>
<path d="M438.0,329.7 H405.4 L402.8,335.6 L405.4,341.5 H438.0" fill="#fff" stroke="#111" stroke-width="1.8" stroke-linejoin="miter"/><rect x="437.2" y="328.9" width="2.6" height="13.4" fill="#111"/>
<path d="M439.5,355.9 H405.4 L402.8,361.8 L405.4,367.7 H439.5" fill="#fff" stroke="#111" stroke-width="1.8" stroke-linejoin="miter"/><rect x="439.0" y="355.1" width="3.2" height="13.4" fill="#111"/>
<line x1="389.5" y1="312.8" x2="472.7" y2="312.8" stroke="#777" stroke-width="0.55" stroke-dasharray="9 2 2 2"/>
<line x1="389.5" y1="335.5" x2="472.7" y2="335.5" stroke="#777" stroke-width="0.55" stroke-dasharray="9 2 2 2"/>
<line x1="389.5" y1="362.0" x2="472.7" y2="362.0" stroke="#777" stroke-width="0.55" stroke-dasharray="9 2 2 2"/>
<path d="M402.4,282.3 L401.5,291 L400.3,300 V372 L401.5,381 L402.4,389.2" fill="none" stroke="#444" stroke-width="0.6"/><text transform="translate(106.4 234.2)" font-size="6.3" fill="#111" text-anchor="start" font-weight="bold" font-style="italic">A-A</text>
<line x1="104.5" y1="236.0" x2="118.8" y2="236.0" stroke="#111" stroke-width="1.2" />
<g transform="translate(140.8,216.6) rotate(29.2)"><polygon points="0,0 64.8,0 64.8,19.0 0.3,24.1 6.4,26.3 12.4,28.4 18.0,32.2 23.6,29.8 27.1,28.6 32.4,27.0 39.3,29.3 46.0,29.0 49.7,25.6 55.7,26.4 60.4,22.4 64.0,19.0" fill="#fff" stroke="none"/><rect x="0" y="0" width="64.8" height="3.9" fill="url(#h2)"/><rect x="1.5" y="11.3" width="21" height="2.2" fill="url(#h2)"/><rect x="25" y="11.6" width="38" height="4.4" fill="url(#h2)"/><rect x="59.5" y="0.5" width="5.3" height="18" fill="url(#h2)"/><rect x="26.5" y="16.2" width="37" height="2.2" fill="#999"/><line x1="0.0" y1="0.0" x2="64.8" y2="0.0" stroke="#111" stroke-width="1.5" /><line x1="0.5" y1="3.9" x2="24.5" y2="3.9" stroke="#111" stroke-width="1.2" /><path d="M26.2,3.9 H58 Q60.3,3.9 60.3,6 V9.5 Q60.3,11.6 58,11.6 H25 L24.2,10.8 V5 Z" fill="#fff" stroke="#111" stroke-width="1.1" stroke-linejoin="round"/><line x1="1.3" y1="11.2" x2="24.2" y2="11.2" stroke="#111" stroke-width="1.1" /><line x1="2.5" y1="14.6" x2="22.5" y2="14.6" stroke="#111" stroke-width="1.0" /><line x1="0.2" y1="0.0" x2="0.2" y2="11.0" stroke="#111" stroke-width="1.0" /><line x1="0.7" y1="11.0" x2="0.2" y2="23.8" stroke="#111" stroke-width="2.0" /><line x1="3.6" y1="19.4" x2="4.0" y2="24.8" stroke="#111" stroke-width="1.2" /><line x1="26.3" y1="16.2" x2="63.8" y2="16.0" stroke="#111" stroke-width="1.0" /><line x1="26.3" y1="18.8" x2="64.2" y2="18.6" stroke="#111" stroke-width="1.8" /><line x1="22.0" y1="14.6" x2="22.9" y2="29.6" stroke="#333" stroke-width="0.6" /><line x1="23.6" y1="14.6" x2="24.4" y2="29.4" stroke="#333" stroke-width="0.6" /><line x1="26.7" y1="17.0" x2="26.9" y2="28.4" stroke="#111" stroke-width="2.0" /><line x1="64.8" y1="0.0" x2="64.8" y2="19.0" stroke="#111" stroke-width="1.0" /><polyline points="0.3,24.1 6.4,26.3 12.4,28.4 18.0,32.2 23.6,29.8 27.1,28.6 32.4,27.0 39.3,29.3 46.0,29.0 49.7,25.6 55.7,26.4 60.4,22.4 64.0,19.0" fill="none" stroke="#555" stroke-width="0.6" stroke-linejoin="round"/></g>
<line x1="147.6" y1="207.2" x2="140.8" y2="216.6" stroke="#666" stroke-width="0.7" />
<line x1="167.6" y1="217.7" x2="162.0" y2="226.4" stroke="#666" stroke-width="0.7" />
<line x1="147.4" y1="207.5" x2="167.4" y2="218.0" stroke="#666" stroke-width="0.7" />
<polygon points="147.4,207.5 151.3,208.7 150.6,210.0" fill="#444"/>
<polygon points="167.4,218.0 163.5,216.8 164.2,215.5" fill="#444"/>
<text transform="translate(153.5 205.5) rotate(27.7)" font-size="8.6" fill="#555" text-anchor="start" font-style="italic" letter-spacing="0.6">9,5<tspan font-size="55%" dy="-1">0</tspan></text><line x1="130.6" y1="531.8" x2="130.6" y2="683.8" stroke="#666" stroke-width="0.6" stroke-dasharray="16 2.5 2.5 2.5"/>
<line x1="60.9" y1="598.5" x2="212.0" y2="598.5" stroke="#666" stroke-width="0.6" stroke-dasharray="16 2.5 2.5 2.5"/>
<polygon points="69.5,599.5 69.5,582.5 69.5,581.4 69.6,580.3 69.6,579.2 69.7,578.2 69.9,577.1 70.0,576.0 70.2,575.0 70.4,573.9 70.7,572.9 71.0,571.8 71.3,570.8 71.6,569.8 72.0,568.8 72.4,567.8 72.8,566.8 73.2,565.8 73.7,564.9 74.2,564.0 74.7,563.1 75.3,562.2 75.8,561.3 76.4,560.5 77.0,559.6 77.7,558.8 79.4,556.8 81.2,554.8 83.0,552.9 84.9,551.1 86.9,549.3 88.9,547.7 90.9,546.1 93.0,544.6 95.2,543.1 97.4,541.8 99.6,540.5 101.9,539.3 104.2,538.2 106.5,537.3 108.8,536.3 111.2,535.5 113.6,534.8 116.0,534.2 118.5,533.7 120.9,533.2 123.4,532.9 125.8,532.6 128.3,532.5 130.8,532.5 133.3,532.5 135.8,532.6 138.2,532.9 140.7,533.2 143.1,533.7 145.6,534.2 148.0,534.8 150.4,535.5 152.8,536.3 155.1,537.3 157.4,538.2 159.7,539.3 162.0,540.5 164.2,541.8 166.4,543.1 168.6,544.6 170.7,546.1 172.7,547.7 174.7,549.3 176.7,551.1 178.6,552.9 180.4,554.8 182.2,556.8 183.9,558.8 184.6,559.6 185.2,560.5 185.8,561.3 186.3,562.2 186.9,563.1 187.4,564.0 187.9,564.9 188.4,565.8 188.8,566.8 189.2,567.8 189.6,568.8 190.0,569.8 190.3,570.8 190.6,571.8 190.9,572.9 191.2,573.9 191.4,575.0 191.6,576.0 191.7,577.1 191.9,578.2 192.0,579.2 192.0,580.3 192.1,581.4 192.1,582.5 192.1,599.5 192.1,616.5 192.1,617.6 192.0,618.7 192.0,619.8 191.9,620.8 191.7,621.9 191.6,623.0 191.4,624.0 191.2,625.1 190.9,626.1 190.6,627.2 190.3,628.2 190.0,629.2 189.6,630.2 189.2,631.2 188.8,632.2 188.4,633.2 187.9,634.1 187.4,635.0 186.9,635.9 186.3,636.8 185.8,637.7 185.2,638.5 184.6,639.4 183.9,640.2 182.2,642.2 180.4,644.2 178.6,646.1 176.7,647.9 174.7,649.7 172.7,651.3 170.7,652.9 168.6,654.4 166.4,655.9 164.2,657.2 162.0,658.5 159.7,659.7 157.4,660.8 155.1,661.7 152.8,662.7 150.4,663.5 148.0,664.2 145.6,664.8 143.1,665.3 140.7,665.8 138.2,666.1 135.8,666.4 133.3,666.5 130.8,666.5 128.3,666.5 125.8,666.4 123.4,666.1 120.9,665.8 118.5,665.3 116.0,664.8 113.6,664.2 111.2,663.5 108.8,662.7 106.5,661.7 104.2,660.8 101.9,659.7 99.6,658.5 97.4,657.2 95.2,655.9 93.0,654.4 90.9,652.9 88.9,651.3 86.9,649.7 84.9,647.9 83.0,646.1 81.2,644.2 79.4,642.2 77.7,640.2 77.0,639.4 76.4,638.5 75.8,637.7 75.3,636.8 74.7,635.9 74.2,635.0 73.7,634.1 73.2,633.2 72.8,632.2 72.4,631.2 72.0,630.2 71.6,629.2 71.3,628.2 71.0,627.2 70.7,626.1 70.4,625.1 70.2,624.0 70.0,623.0 69.9,621.9 69.7,620.8 69.6,619.8 69.6,618.7 69.5,617.6 69.5,616.5" fill="none" stroke="#111" stroke-width="1.3" stroke-linejoin="round"/>
<polygon points="74.9,599.5 74.9,581.7 74.9,580.8 75.0,579.8 75.0,578.8 75.1,577.9 75.3,576.9 75.4,576.0 75.6,575.0 75.8,574.1 76.0,573.1 76.3,572.2 76.6,571.3 76.9,570.4 77.3,569.5 77.6,568.6 78.0,567.7 78.5,566.9 78.9,566.0 79.4,565.2 79.9,564.4 80.4,563.6 80.9,562.8 81.5,562.0 82.1,561.3 82.7,560.5 84.2,558.8 85.8,557.2 87.5,555.5 89.2,554.0 91.0,552.5 92.8,551.1 94.6,549.7 96.5,548.5 98.5,547.2 100.4,546.1 102.5,545.0 104.5,544.0 106.6,543.1 108.7,542.3 110.8,541.5 113.0,540.8 115.2,540.2 117.4,539.7 119.6,539.2 121.8,538.9 124.0,538.6 126.3,538.4 128.5,538.2 130.8,538.2 133.1,538.2 135.3,538.4 137.6,538.6 139.8,538.9 142.0,539.2 144.2,539.7 146.4,540.2 148.6,540.8 150.8,541.5 152.9,542.3 155.0,543.1 157.1,544.0 159.1,545.0 161.2,546.1 163.1,547.2 165.1,548.5 167.0,549.7 168.8,551.1 170.6,552.5 172.4,554.0 174.1,555.5 175.8,557.2 177.4,558.8 178.9,560.5 179.5,561.3 180.1,562.0 180.7,562.8 181.2,563.6 181.7,564.4 182.2,565.2 182.7,566.0 183.1,566.9 183.6,567.7 184.0,568.6 184.3,569.5 184.7,570.4 185.0,571.3 185.3,572.2 185.6,573.1 185.8,574.1 186.0,575.0 186.2,576.0 186.3,576.9 186.5,577.9 186.6,578.8 186.6,579.8 186.7,580.8 186.7,581.7 186.7,599.5 186.7,617.3 186.7,618.2 186.6,619.2 186.6,620.2 186.5,621.1 186.3,622.1 186.2,623.0 186.0,624.0 185.8,624.9 185.6,625.9 185.3,626.8 185.0,627.7 184.7,628.6 184.3,629.5 184.0,630.4 183.6,631.3 183.1,632.1 182.7,633.0 182.2,633.8 181.7,634.6 181.2,635.4 180.7,636.2 180.1,637.0 179.5,637.7 178.9,638.5 177.4,640.2 175.8,641.8 174.1,643.5 172.4,645.0 170.6,646.5 168.8,647.9 167.0,649.3 165.1,650.5 163.1,651.8 161.2,652.9 159.1,654.0 157.1,655.0 155.0,655.9 152.9,656.7 150.8,657.5 148.6,658.2 146.4,658.8 144.2,659.3 142.0,659.8 139.8,660.1 137.6,660.4 135.3,660.6 133.1,660.8 130.8,660.8 128.5,660.8 126.3,660.6 124.0,660.4 121.8,660.1 119.6,659.8 117.4,659.3 115.2,658.8 113.0,658.2 110.8,657.5 108.7,656.7 106.6,655.9 104.5,655.0 102.5,654.0 100.4,652.9 98.5,651.8 96.5,650.5 94.6,649.3 92.8,647.9 91.0,646.5 89.2,645.0 87.5,643.5 85.8,641.8 84.2,640.2 82.7,638.5 82.1,637.7 81.5,637.0 80.9,636.2 80.4,635.4 79.9,634.6 79.4,633.8 78.9,633.0 78.5,632.1 78.0,631.3 77.6,630.4 77.3,629.5 76.9,628.6 76.6,627.7 76.3,626.8 76.0,625.9 75.8,624.9 75.6,624.0 75.4,623.0 75.3,622.1 75.1,621.1 75.0,620.2 75.0,619.2 74.9,618.2 74.9,617.3" fill="none" stroke="#111" stroke-width="1.3" stroke-linejoin="round"/>
<polygon points="82.1,599.5 82.1,581.9 82.1,581.1 82.2,580.3 82.2,579.4 82.3,578.6 82.4,577.7 82.6,576.9 82.8,576.1 83.0,575.2 83.2,574.4 83.5,573.6 83.8,572.8 84.1,572.0 84.4,571.3 84.8,570.5 85.1,569.7 85.6,569.0 86.0,568.3 86.4,567.6 86.9,566.9 87.4,566.2 88.0,565.5 88.5,564.9 89.1,564.2 89.7,563.6 91.0,562.3 92.4,561.0 93.9,559.8 95.4,558.6 96.9,557.4 98.5,556.4 100.1,555.3 101.7,554.3 103.4,553.4 105.0,552.5 106.8,551.7 108.5,551.0 110.3,550.2 112.1,549.6 113.9,549.0 115.7,548.5 117.6,548.0 119.4,547.6 121.3,547.3 123.2,547.0 125.1,546.8 127.0,546.6 128.9,546.5 130.8,546.5 132.7,546.5 134.6,546.6 136.5,546.8 138.4,547.0 140.3,547.3 142.2,547.6 144.0,548.0 145.9,548.5 147.7,549.0 149.5,549.6 151.3,550.2 153.1,551.0 154.8,551.7 156.6,552.5 158.2,553.4 159.9,554.3 161.5,555.3 163.1,556.4 164.7,557.4 166.2,558.6 167.7,559.8 169.2,561.0 170.6,562.3 171.9,563.6 172.5,564.2 173.1,564.9 173.6,565.5 174.2,566.2 174.7,566.9 175.2,567.6 175.6,568.3 176.0,569.0 176.5,569.7 176.8,570.5 177.2,571.3 177.5,572.0 177.8,572.8 178.1,573.6 178.4,574.4 178.6,575.2 178.8,576.1 179.0,576.9 179.2,577.7 179.3,578.6 179.4,579.4 179.4,580.3 179.5,581.1 179.5,581.9 179.5,599.5 179.5,617.1 179.5,617.9 179.4,618.7 179.4,619.6 179.3,620.4 179.2,621.3 179.0,622.1 178.8,622.9 178.6,623.8 178.4,624.6 178.1,625.4 177.8,626.2 177.5,627.0 177.2,627.7 176.8,628.5 176.5,629.3 176.0,630.0 175.6,630.7 175.2,631.4 174.7,632.1 174.2,632.8 173.6,633.5 173.1,634.1 172.5,634.8 171.9,635.4 170.6,636.7 169.2,638.0 167.7,639.2 166.2,640.4 164.7,641.6 163.1,642.6 161.5,643.7 159.9,644.7 158.2,645.6 156.6,646.5 154.8,647.3 153.1,648.0 151.3,648.8 149.5,649.4 147.7,650.0 145.9,650.5 144.0,651.0 142.2,651.4 140.3,651.7 138.4,652.0 136.5,652.2 134.6,652.4 132.7,652.5 130.8,652.5 128.9,652.5 127.0,652.4 125.1,652.2 123.2,652.0 121.3,651.7 119.4,651.4 117.6,651.0 115.7,650.5 113.9,650.0 112.1,649.4 110.3,648.8 108.5,648.0 106.8,647.3 105.0,646.5 103.4,645.6 101.7,644.7 100.1,643.7 98.5,642.6 96.9,641.6 95.4,640.4 93.9,639.2 92.4,638.0 91.0,636.7 89.7,635.4 89.1,634.8 88.5,634.1 88.0,633.5 87.4,632.8 86.9,632.1 86.4,631.4 86.0,630.7 85.6,630.0 85.1,629.3 84.8,628.5 84.4,627.7 84.1,627.0 83.8,626.2 83.5,625.4 83.2,624.6 83.0,623.8 82.8,622.9 82.6,622.1 82.4,621.3 82.3,620.4 82.2,619.6 82.2,618.7 82.1,617.9 82.1,617.1" fill="none" stroke="#111" stroke-width="1.3" stroke-linejoin="round"/>
<line x1="74.9" y1="581.0" x2="74.9" y2="617.6" stroke="#111" stroke-width="1.9" />
<line x1="82.1" y1="581.0" x2="82.1" y2="617.6" stroke="#111" stroke-width="1.7" />
<line x1="186.7" y1="581.0" x2="186.7" y2="617.0" stroke="#111" stroke-width="2.1" />
<line x1="155.2" y1="551.6" x2="157.9" y2="546.0" stroke="#222" stroke-width="0.8" />
<line x1="157.4" y1="552.8" x2="160.1" y2="547.2" stroke="#222" stroke-width="0.8" />
<ellipse cx="130.9" cy="570.5" rx="5.0" ry="5.6" fill="none" stroke="#111" stroke-width="1.15"/>
<ellipse cx="100.7" cy="598.5" rx="7.7" ry="8.6" fill="none" stroke="#111" stroke-width="1.15"/>
<ellipse cx="161.1" cy="598.5" rx="7.7" ry="8.6" fill="none" stroke="#111" stroke-width="1.15"/>
<ellipse cx="130.9" cy="632.6" rx="7.7" ry="8.6" fill="none" stroke="#111" stroke-width="1.15"/>
<line x1="123.4" y1="570.5" x2="138.4" y2="570.5" stroke="#777" stroke-width="0.5" />
<line x1="130.9" y1="563.0" x2="130.9" y2="578.0" stroke="#444" stroke-width="0.6" />
<line x1="90.2" y1="598.5" x2="111.2" y2="598.5" stroke="#777" stroke-width="0.5" />
<line x1="100.7" y1="588.0" x2="100.7" y2="609.0" stroke="#444" stroke-width="0.6" />
<line x1="150.6" y1="598.5" x2="171.6" y2="598.5" stroke="#777" stroke-width="0.5" />
<line x1="161.1" y1="588.0" x2="161.1" y2="609.0" stroke="#444" stroke-width="0.6" />
<line x1="120.4" y1="632.6" x2="141.4" y2="632.6" stroke="#777" stroke-width="0.5" />
<line x1="130.9" y1="622.1" x2="130.9" y2="643.1" stroke="#444" stroke-width="0.6" />
<ellipse cx="150.6" cy="635.5" rx="5.5" ry="6.0" fill="#fff" stroke="#111" stroke-width="1.2"/>
<path d="M150.6,631.2 V636.5" stroke="#111" stroke-width="1.0" fill="none"/>
<polygon points="147.4,636.1 153.79999999999998,636.1 152.6,639.7 148.6,639.7" fill="#111"/>
<text transform="translate(94.6 585.0)" font-size="9.6" fill="#444" text-anchor="start" >L/+</text>
<path d="M209.3,600.5 A78.7,83.5 0 0 1 130.6,683.0" fill="none" stroke="#666" stroke-width="0.7"/>
<polygon points="209.3,600.0 209.9,605.0 208.4,605.0" fill="#444"/>
<polygon points="130.9,683.0 135.9,682.1 135.9,683.6" fill="#444"/>
<text transform="translate(177.5 663.5) rotate(-42)" font-size="9.2" fill="#555" text-anchor="start" letter-spacing="0.8">90°</text>
<line x1="110.2" y1="527.2" x2="218.5" y2="527.2" stroke="#222" stroke-width="0.9" />
<line x1="110.3" y1="527.2" x2="129.0" y2="565.6" stroke="#444" stroke-width="0.6" /><rect x="170.6" y="764.6" width="53.5" height="5.1" fill="url(#h3)"/>
<rect x="170.6" y="784.1" width="53.5" height="4.9" fill="url(#h3)"/>
<line x1="170.6" y1="764.6" x2="224.1" y2="764.6" stroke="#111" stroke-width="1.6" />
<line x1="170.6" y1="789.0" x2="224.1" y2="789.0" stroke="#111" stroke-width="1.6" />
<line x1="170.6" y1="769.7" x2="224.1" y2="769.7" stroke="#111" stroke-width="1.2" />
<line x1="170.6" y1="784.1" x2="224.1" y2="784.1" stroke="#111" stroke-width="1.2" />
<rect x="221.9" y="763.8" width="2.4" height="26.0" fill="#111"/>
<path d="M171.1,764.6 q-1.2,3 0,6 q1.2,3 0,6 q-1.2,3 0,6 q1.2,3 0,6.4" fill="none" stroke="#222" stroke-width="0.9"/>
<line x1="169.0" y1="776.5" x2="229.4" y2="776.5" stroke="#555" stroke-width="0.6" stroke-dasharray="12 2.5 2.5 2.5"/>
<line x1="152.0" y1="744.7" x2="232.6" y2="744.7" stroke="#444" stroke-width="0.8" />
<line x1="221.6" y1="742.0" x2="221.6" y2="764.0" stroke="#333" stroke-width="0.7" />
<line x1="223.8" y1="742.0" x2="223.8" y2="764.0" stroke="#333" stroke-width="0.7" />
<polygon points="221.6,744.7 215.6,745.6 215.6,743.8" fill="#333"/>
<polygon points="223.8,744.7 229.8,743.8 229.8,745.6" fill="#333"/>
<text transform="translate(156.4 737.6)" font-size="12" fill="#222" text-anchor="start" >0,5</text>
<text transform="translate(176.2 731.0)" font-size="9.8" fill="#222" text-anchor="start" >+0,3</text>
<text transform="translate(176.4 741.9)" font-size="9.8" fill="#222" text-anchor="start" >-0,2</text>
<text transform="translate(199.4 737.0)" font-size="11.4" fill="#222" text-anchor="start" >(2)</text>
<line x1="224.1" y1="766.5" x2="249.3" y2="743.5" stroke="#444" stroke-width="0.7" />
<line x1="224.1" y1="787.7" x2="231.6" y2="793.2" stroke="#444" stroke-width="0.7" />
<path d="M249.3,743.5 A41.5,41.5 0 0 1 249.3,809.3" fill="none" stroke="#555" stroke-width="0.7"/>
<polygon points="249.3,743.5 254.2,747.2 252.9,748.4" fill="#444"/>
<polygon points="249.3,809.3 252.9,804.4 254.2,805.6" fill="#444"/>
<line x1="246.8" y1="806.1" x2="250.8" y2="811.3" stroke="#444" stroke-width="0.7" />
<line x1="237.9" y1="760.1" x2="237.9" y2="833.2" stroke="#444" stroke-width="0.7" />
<line x1="224.1" y1="769.7" x2="241.1" y2="769.7" stroke="#444" stroke-width="0.7" />
<line x1="224.1" y1="784.1" x2="241.1" y2="784.1" stroke="#444" stroke-width="0.7" />
<polygon points="237.9,769.7 237.0,763.7 238.8,763.7" fill="#333"/>
<polygon points="237.9,784.1 238.8,790.1 237.0,790.1" fill="#333"/>
<text transform="translate(233.6 832.4) rotate(-90)" font-size="11.2" fill="#222" text-anchor="start" >Ø 5 (1)</text>
<text transform="translate(267.6 760.0) rotate(90)" font-size="11.4" fill="#222" text-anchor="start" >90<tspan font-size="10" dy="-3.4">o</tspan><tspan dy="3.4">max</tspan></text>
<rect x="384.0" y="765.7" width="50.6" height="6.8" fill="url(#h3)"/>
<rect x="384.0" y="781.4" width="50.6" height="6.2" fill="url(#h3)"/>
<line x1="384.0" y1="765.7" x2="434.6" y2="765.7" stroke="#111" stroke-width="1.6" />
<line x1="384.0" y1="787.6" x2="434.6" y2="787.6" stroke="#111" stroke-width="1.6" />
<line x1="384.0" y1="772.5" x2="434.6" y2="772.5" stroke="#111" stroke-width="1.2" />
<line x1="384.0" y1="781.4" x2="434.6" y2="781.4" stroke="#111" stroke-width="1.2" />
<rect x="432.4" y="764.9" width="2.4" height="23.5" fill="#111"/>
<line x1="384.0" y1="764.9" x2="384.0" y2="788.4" stroke="#111" stroke-width="1.5" />
<line x1="379.0" y1="776.9" x2="444.7" y2="776.9" stroke="#555" stroke-width="0.6" stroke-dasharray="12 2.5 2.5 2.5"/>
<line x1="363.8" y1="746.0" x2="443.7" y2="746.0" stroke="#444" stroke-width="0.8" />
<line x1="432.2" y1="743.3" x2="432.2" y2="765.2" stroke="#333" stroke-width="0.7" />
<line x1="434.6" y1="743.3" x2="434.6" y2="765.2" stroke="#333" stroke-width="0.7" />
<polygon points="432.2,746.0 426.2,746.9 426.2,745.1" fill="#333"/>
<polygon points="434.6,746.0 440.6,745.1 440.6,746.9" fill="#333"/>
<text transform="translate(367.2 737.0)" font-size="12" fill="#222" text-anchor="start" >0,5</text>
<text transform="translate(386.4 731.0)" font-size="9.8" fill="#222" text-anchor="start" >+0,3</text>
<text transform="translate(386.6 742.3)" font-size="9.8" fill="#222" text-anchor="start" >-0,2</text>
<text transform="translate(410.6 738.6)" font-size="11.4" fill="#222" text-anchor="start" >(2)</text>
<line x1="434.6" y1="767.7" x2="461.9" y2="744.0" stroke="#444" stroke-width="0.7" />
<line x1="434.6" y1="785.7" x2="441.6" y2="790.2" stroke="#444" stroke-width="0.7" />
<path d="M461.9,744.0 A42.5,42.5 0 0 1 461.9,809.2" fill="none" stroke="#555" stroke-width="0.7"/>
<polygon points="461.9,744.0 466.6,747.9 465.3,749.1" fill="#444"/>
<polygon points="461.9,809.2 465.3,804.1 466.6,805.3" fill="#444"/>
<line x1="459.1" y1="805.8" x2="463.4" y2="811.2" stroke="#444" stroke-width="0.7" />
<line x1="446.8" y1="763.4" x2="446.8" y2="811.1" stroke="#444" stroke-width="0.7" />
<line x1="434.6" y1="772.5" x2="450.0" y2="772.5" stroke="#444" stroke-width="0.7" />
<line x1="434.6" y1="781.4" x2="450.0" y2="781.4" stroke="#444" stroke-width="0.7" />
<polygon points="446.8,772.5 445.9,766.5 447.7,766.5" fill="#333"/>
<polygon points="446.8,781.4 447.7,787.4 445.9,787.4" fill="#333"/>
<line x1="410.8" y1="810.4" x2="446.8" y2="810.4" stroke="#444" stroke-width="0.7" />
<text transform="translate(407.6 805.9)" font-size="12" fill="#222" text-anchor="start" >Ø3 (1)</text>
<text transform="translate(478.2 758.0) rotate(90)" font-size="11.4" fill="#222" text-anchor="start" >90<tspan font-size="10" dy="-3.4">o</tspan><tspan dy="3.4">max</tspan></text>
</svg>
</body></html>
